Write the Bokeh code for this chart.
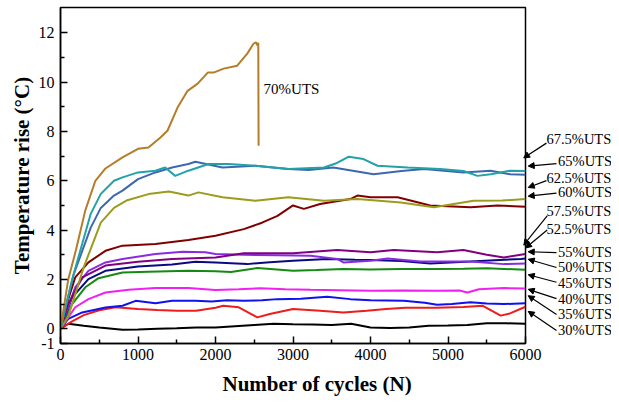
from bokeh.plotting import figure
from bokeh.layouts import row
from bokeh.models import Range1d, FixedTicker, Label, Arrow, NormalHead, Title
from bokeh.embed import file_html
from bokeh.resources import INLINE

# ---------------- data ----------------
cyc_30 = [0, 100, 300, 500, 800, 1000, 1250, 1500, 1750, 2000, 2250, 2500, 2750, 3000, 3250, 3500, 3750, 4000, 4250, 4500, 4750, 5000, 5250, 5500, 5750, 6000]
temp_30 = [0, 0.2, 0.12, 0.05, -0.04, -0.03, 0.0, 0.02, 0.05, 0.05, 0.1, 0.15, 0.2, 0.18, 0.17, 0.15, 0.2, 0.05, 0.03, 0.05, 0.12, 0.13, 0.15, 0.22, 0.22, 0.2]

cyc_35 = [0, 150, 300, 500, 710, 1000, 1250, 1500, 1750, 2000, 2100, 2300, 2540, 2700, 3000, 3350, 3650, 3950, 4200, 4450, 4850, 5200, 5450, 5680, 5800, 6000]
temp_35 = [0, 0.3, 0.55, 0.75, 0.87, 0.8, 0.76, 0.73, 0.73, 0.85, 0.93, 0.87, 0.46, 0.6, 0.8, 0.73, 0.66, 0.73, 0.8, 0.85, 0.85, 0.88, 0.93, 0.53, 0.62, 0.89]

cyc_40 = [0, 100, 280, 580, 800, 970, 1225, 1440, 1740, 1950, 2150, 2365, 2600, 2800, 3100, 3440, 3740, 4000, 4430, 4700, 4860, 5050, 5290, 5500, 5720, 6000]
temp_40 = [0, 0.4, 0.66, 0.86, 0.93, 1.13, 1.03, 1.13, 1.13, 1.1, 1.15, 1.13, 1.15, 1.2, 1.22, 1.3, 1.2, 1.15, 1.13, 1.05, 0.97, 1.0, 1.07, 1.02, 1.0, 1.03]

cyc_45 = [0, 190, 360, 580, 880, 1225, 1650, 2000, 2300, 2580, 2900, 3225, 3600, 4000, 4400, 4860, 5150, 5250, 5400, 5720, 6000]
temp_45 = [0, 0.87, 1.2, 1.47, 1.58, 1.65, 1.65, 1.57, 1.6, 1.64, 1.6, 1.58, 1.56, 1.54, 1.55, 1.54, 1.55, 1.47, 1.6, 1.65, 1.63]

cyc_50 = [0, 150, 320, 490, 800, 1135, 1650, 2000, 2200, 2540, 3000, 3300, 3650, 4000, 4400, 4860, 5200, 5500, 6000]
temp_50 = [0, 1.0, 1.68, 2.05, 2.28, 2.31, 2.35, 2.33, 2.3, 2.46, 2.35, 2.38, 2.42, 2.4, 2.42, 2.42, 2.43, 2.45, 2.39]

cyc_525 = [0, 150, 360, 580, 1000, 1440, 1740, 2000, 2410, 2700, 3000, 3440, 3800, 4000, 4400, 4770, 5290, 5600, 5940, 6000]
temp_525 = [0, 1.27, 2.01, 2.35, 2.52, 2.6, 2.72, 2.69, 2.62, 2.7, 2.76, 2.83, 2.8, 2.79, 2.75, 2.65, 2.73, 2.78, 2.83, 2.85]

cyc_55 = [0, 190, 360, 580, 800, 1225, 1580, 1870, 2000, 2365, 2800, 3225, 3570, 3650, 4000, 4220, 4645, 5290, 5720, 6000]
temp_55 = [0, 1.68, 2.35, 2.69, 2.83, 3.03, 3.12, 3.1, 3.03, 3.0, 2.98, 2.96, 2.83, 2.69, 2.76, 2.85, 2.73, 2.73, 2.62, 2.65]

cyc_575 = [0, 100, 280, 580, 1000, 1440, 2000, 2365, 3000, 3570, 4000, 4300, 4860, 5200, 5500, 5720, 6000]
temp_575 = [0, 1.0, 2.08, 2.56, 2.72, 2.83, 2.89, 3.06, 3.06, 3.19, 3.1, 3.19, 3.1, 3.19, 3.0, 2.89, 3.03]

cyc_60 = [0, 100, 190, 360, 580, 800, 1225, 1650, 2000, 2365, 2600, 2800, 3000, 3140, 3350, 3740, 3830, 4000, 4350, 4770, 5290, 5640, 6000]
temp_60 = [0, 1.2, 2.08, 2.69, 3.16, 3.37, 3.44, 3.6, 3.77, 4.04, 4.3, 4.58, 5.0, 4.86, 5.06, 5.26, 5.4, 5.33, 5.33, 5.0, 4.93, 5.0, 4.95]

cyc_625 = [0, 100, 300, 520, 690, 850, 1135, 1400, 1650, 1780, 2090, 2515, 2940, 3400, 3830, 4390, 4820, 5330, 5700, 6000]
temp_625 = [0, 0.5, 2.5, 4.3, 4.9, 5.2, 5.46, 5.57, 5.4, 5.53, 5.33, 5.19, 5.33, 5.19, 5.26, 5.12, 4.93, 5.19, 5.2, 5.26]

cyc_65 = [0, 170, 390, 520, 690, 800, 1000, 1225, 1440, 1650, 1740, 2090, 2515, 2940, 3200, 3520, 4040, 4400, 4690, 5200, 5550, 5800, 6000]
temp_65 = [0, 2.2, 4.1, 4.9, 5.4, 5.6, 6.07, 6.34, 6.54, 6.68, 6.77, 6.54, 6.61, 6.48, 6.44, 6.54, 6.27, 6.4, 6.48, 6.34, 6.41, 6.27, 6.25]

cyc_675 = [0, 150, 390, 520, 690, 800, 1000, 1225, 1350, 1480, 1650, 1910, 2170, 2515, 2940, 3400, 3550, 3720, 3910, 4090, 4480, 4900, 5200, 5380, 5550, 5800, 6000]
temp_675 = [0, 2.0, 4.66, 5.47, 6.0, 6.14, 6.34, 6.41, 6.54, 6.2, 6.41, 6.68, 6.68, 6.61, 6.48, 6.54, 6.7, 6.98, 6.88, 6.61, 6.54, 6.48, 6.4, 6.2, 6.27, 6.41, 6.4]

cyc_70 = [0, 100, 200, 320, 450, 580, 800, 1000, 1135, 1290, 1380, 1510, 1640, 1770, 1900, 1975, 2105, 2280, 2410, 2490, 2520, 2540, 2552, 2556]
temp_70 = [0, 2.0, 3.2, 4.8, 6.0, 6.5, 6.95, 7.3, 7.35, 7.76, 8.03, 8.97, 9.65, 9.94, 10.39, 10.39, 10.55, 10.67, 11.16, 11.56, 11.62, 11.5, 11.6, 7.42]

series_x = [cyc_30, cyc_35, cyc_40, cyc_45, cyc_50, cyc_525, cyc_55, cyc_575, cyc_60, cyc_625, cyc_65, cyc_675, cyc_70]
series_y = [temp_30, temp_35, temp_40, temp_45, temp_50, temp_525, temp_55, temp_575, temp_60, temp_625, temp_65, temp_675, temp_70]
series_colors = ["#000000", "#ee1c1c", "#1010f0", "#f020f0", "#148a14", "#0a0a80", "#8a2be2",
                 "#800080", "#800000", "#9c9c1c", "#3d68b0", "#22a2a8", "#b57d28"]

x_ticks = [0, 1000, 2000, 3000, 4000, 5000, 6000]
x_minor = [500, 1500, 2500, 3500, 4500, 5500]
y_top = 13.03
y_bottom = -0.60
y_ticks = [y_bottom, 0, 2, 4, 6, 8, 10, 12]
y_minor = [1, 3, 5, 7, 9, 11]

# annotation layout (label position, arrow tail, arrow tip) in data units
ann_names = ["67.5%UTS", "65%UTS", "62.5%UTS", "60%UTS", "57.5%UTS", "52.5%UTS",
             "55%UTS", "50%UTS", "45%UTS", "40%UTS", "35%UTS", "30%UTS"]
ann_label_x = [6270, 6420, 6270, 6420, 6270, 6270, 6420, 6420, 6420, 6420, 6420, 6420]
ann_label_y = [7.42, 6.49, 5.76, 5.15, 4.34, 3.61, 2.60, 1.95, 1.30, 0.61, -0.04, -0.73]
ann_tail = [(6270, 7.25), (6400, 6.38), (6270, 5.65), (6400, 5.12), (6280, 4.15), (6280, 3.55),
            (6400, 2.58), (6400, 1.95), (6400, 1.32), (6400, 0.62), (6400, -0.05), (6400, -0.74)]
ann_tip = [(5975, 6.62), (6035, 6.27), (6035, 5.36), (6035, 4.99), (5975, 2.9), (6000, 2.78),
           (6035, 2.62), (6035, 2.3), (6035, 1.64), (6035, 1.02), (6035, 0.75), (6035, 0.08)]

# ---------------- layout sizes (px) ----------------
FONT = "Liberation Serif"
TOTAL_W, TOTAL_H = 611, 404
LEFT, FRAME_W, RIGHT = 60, 465, 22
TOP, FRAME_H = 7, 336
MAIN_W = LEFT + FRAME_W + RIGHT
OVERLAP = 24
SIDE_W = TOTAL_W - MAIN_W + OVERLAP
SIDE_FRAME_H = 353

x_per_px = 6000 / FRAME_W
y_per_px = (y_top - y_bottom) / FRAME_H

p = figure(width=MAIN_W, height=TOTAL_H, output_backend="svg", toolbar_location=None,
           x_range=Range1d(0, 6000), y_range=Range1d(y_bottom, y_top),
           min_border_left=LEFT, min_border_right=RIGHT, min_border_top=TOP,
           min_border_bottom=TOTAL_H - TOP - FRAME_H)
p.background_fill_color = "white"
p.border_fill_color = "white"
p.outline_line_color = "black"
p.outline_line_width = 1.5
p.xgrid.visible = False
p.ygrid.visible = False

for xs, ys, c in zip(series_x, series_y, series_colors):
    p.line(xs, ys, line_color=c, line_width=2)

p.xaxis.ticker = FixedTicker(ticks=x_ticks, minor_ticks=x_minor)
p.yaxis.ticker = FixedTicker(ticks=y_ticks, minor_ticks=y_minor)
p.yaxis.major_label_overrides = {y_bottom: "-1"}

for ax in (p.xaxis[0], p.yaxis[0]):
    ax.axis_line_width = 1.5
    ax.major_tick_in = 7
    ax.major_tick_out = 0
    ax.minor_tick_in = 4
    ax.minor_tick_out = 0
    ax.major_tick_line_width = 1.5
    ax.minor_tick_line_width = 1.5
    ax.major_label_text_font = FONT
    ax.major_label_text_font_size = "16px"
    ax.major_label_text_color = "black"
    ax.axis_label_text_font = FONT
    ax.axis_label_text_font_style = "bold"
    ax.axis_label_text_font_size = "21px"
    ax.axis_label_text_color = "black"

p.yaxis.axis_label = "Temperature rise (°C)"
p.xaxis.major_label_standoff = 5
p.yaxis.major_label_standoff = 6
p.yaxis.axis_label_standoff = 2

# x-axis title sits a little right of the frame centre in the reference
p.add_layout(Title(text="Number of cycles (N)", align="left", offset=162, standoff=14,
                   text_font=FONT, text_font_style="bold", text_font_size="21px",
                   text_color="black"), "below")

p.add_layout(Label(x=2620, y=9.74, text="70%UTS", text_font=FONT, text_font_size="15px",
                   text_baseline="middle", text_align="left", text_color="black"))

side_x0 = 6000 + (RIGHT - OVERLAP) * x_per_px
side_x1 = side_x0 + SIDE_W * x_per_px
side_y0 = y_top - SIDE_FRAME_H * y_per_px
p2 = figure(width=SIDE_W, height=TOTAL_H, output_backend="svg", toolbar_location=None,
            x_range=Range1d(side_x0, side_x1), y_range=Range1d(side_y0, y_top),
            x_axis_location=None, y_axis_location=None,
            min_border_left=0, min_border_right=0, min_border_top=TOP,
            min_border_bottom=TOTAL_H - TOP - SIDE_FRAME_H,
            margin=(0, 0, 0, -OVERLAP))
p2.outline_line_color = None
p2.xgrid.visible = False
p2.ygrid.visible = False
p2.background_fill_color = None
p2.border_fill_color = None

for name, lx, ly, (tx, ty), (hx, hy) in zip(ann_names, ann_label_x, ann_label_y, ann_tail, ann_tip):
    p2.add_layout(Label(x=lx, y=ly, text=name, text_font=FONT, text_font_size="14.5px",
                        text_baseline="middle", text_align="left", text_color="black"))
    p2.add_layout(Arrow(x_start=tx, y_start=ty, x_end=hx, y_end=hy, line_width=1.2, line_color="black",
                        end=NormalHead(size=6, fill_color="black", line_color="black")))

layout = row(p, p2)
open("out.html", "w").write(file_html(layout, INLINE))
